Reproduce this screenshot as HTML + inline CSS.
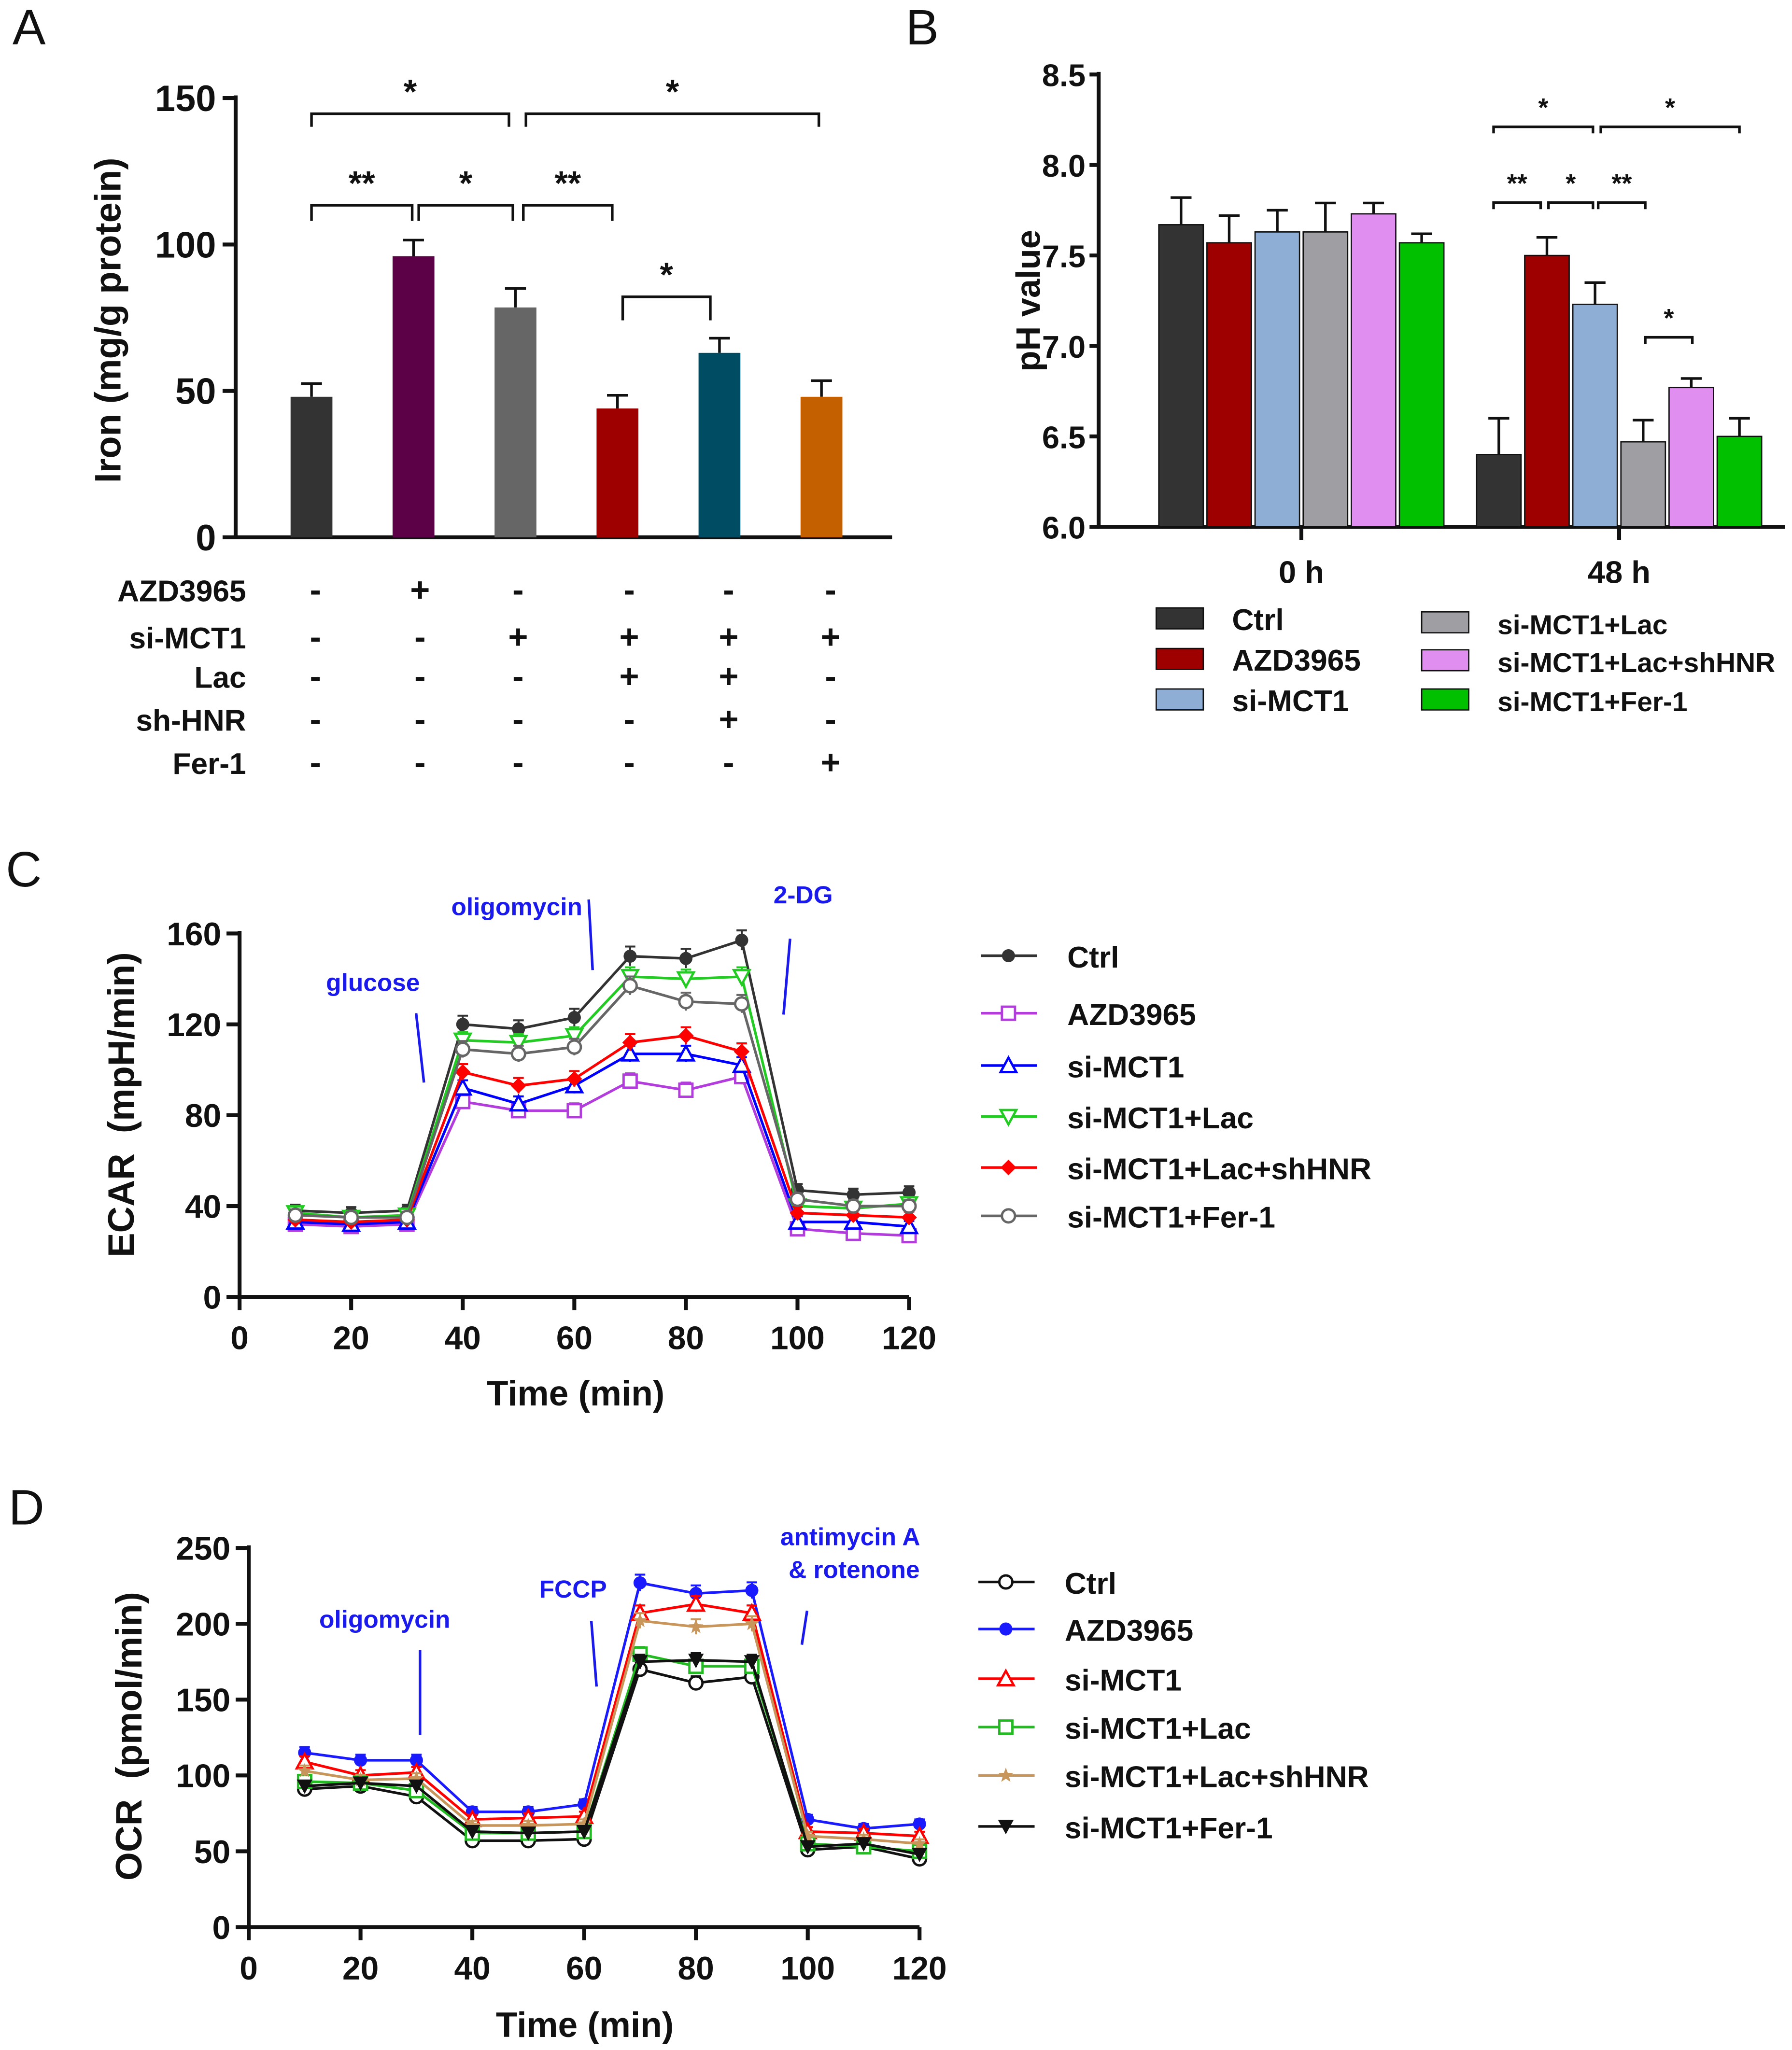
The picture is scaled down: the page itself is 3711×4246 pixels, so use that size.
<!DOCTYPE html>
<html><head><meta charset="utf-8"><style>
html,body{margin:0;padding:0;background:#fff}
svg{display:block}
text{font-family:"Liberation Sans",Arial,sans-serif;font-weight:bold;fill:#111}
</style></head><body>
<svg id="fig" width="3711" height="4246" viewBox="0 0 1370 1568" xmlns="http://www.w3.org/2000/svg">
<rect width="1370" height="1568" fill="#fff"/>
<g id="A"></g>
<g id="B"></g>
<g id="C"></g>
<g id="D"></g>
</svg>
<script>
// ---------- Panel A data ----------
const aGroups = ["g1","g2","g3","g4","g5","g6"];
const aValues = [48, 96, 78.5, 44, 63, 48];
const aErrors = [4.5, 5.5, 6.5, 4.5, 5, 5.5];
const aTicks = [0, 50, 100, 150];
const aColors = ["#333333","#5c0048","#666666","#9e0000","#004d63","#c46000"];
const aRowLabels = ["AZD3965","si-MCT1","Lac","sh-HNR","Fer-1"];
const aRowSigns = [["-","+","-","-","-","-"],["-","-","+","+","+","+"],["-","-","-","+","+","-"],["-","-","-","-","+","-"],["-","-","-","-","-","+"]];
// ---------- Panel B data ----------
const bCategories = ["0 h","48 h"];
const bSeries = ["Ctrl","AZD3965","si-MCT1","si-MCT1+Lac","si-MCT1+Lac+shHNR","si-MCT1+Fer-1"];
const b0h = [7.67, 7.57, 7.63, 7.63, 7.73, 7.57];
const b48h = [6.40, 7.50, 7.23, 6.47, 6.77, 6.50];
const b0hErr = [0.15, 0.15, 0.12, 0.16, 0.06, 0.05];
const b48hErr = [0.2, 0.1, 0.12, 0.12, 0.05, 0.1];
const bTicks = [6.0, 6.5, 7.0, 7.5, 8.0, 8.5];
const bColors = ["#333333","#9e0000","#8eaed6","#9e9ea3","#e08ff0","#00c000"];
// ---------- Panel C data ----------
const cTimes = [10,20,30,40,50,60,70,80,90,100,110,120];
const cCtrl = [38,37,38,120,118,123,150,149,157,47,45,46];
const cAZD = [32,31,32,86,82,82,95,91,97,30,28,27];
const cMCT1 = [33,32,33,92,85,93,107,107,102,33,33,31];
const cLac = [37,35,36,113,112,115,141,140,141,40,39,41];
const cHNR = [34,33,34,99,93,96,112,115,108,37,36,35];
const cFer = [36,35,35,109,107,110,137,130,129,43,40,40];
const cXTicks = [0,20,40,60,80,100,120];
const cYTicks = [0,40,80,120,160];
const cNames = ["Ctrl","AZD3965","si-MCT1","si-MCT1+Lac","si-MCT1+Lac+shHNR","si-MCT1+Fer-1"];
// ---------- Panel D data ----------
const dTimes = [10,20,30,40,50,60,70,80,90,100,110,120];
const dCtrl = [91,93,86,57,57,58,170,161,165,51,53,45];
const dAZD = [115,110,110,76,76,81,227,220,222,71,65,68];
const dMCT1 = [109,100,102,71,72,73,207,213,207,63,62,60];
const dLac = [96,95,90,62,62,63,180,172,172,55,53,50];
const dHNR = [103,97,98,67,67,68,202,198,200,60,58,55];
const dFer = [93,95,93,63,62,63,175,176,175,53,55,48];
const dXTicks = [0,20,40,60,80,100,120];
const dYTicks = [0,50,100,150,200,250];
const dNames = ["Ctrl","AZD3965","si-MCT1","si-MCT1+Lac","si-MCT1+Lac+shHNR","si-MCT1+Fer-1"];

const NS="http://www.w3.org/2000/svg";
function mk(parent,tag,attrs,txt){const e=document.createElementNS(NS,tag);for(const k in attrs)e.setAttribute(k,attrs[k]);if(txt!==undefined)e.textContent=txt;parent.appendChild(e);return e;}
function line(p,x1,y1,x2,y2,c,w,name){const e=mk(p,'line',{x1,y1,x2,y2,stroke:c||'#111','stroke-width':w||3});

return e;}
function txt(p,x,y,s,size,anchor,name,fill){const e=mk(p,'text',{x,y,'font-size':size,'text-anchor':anchor||'middle'},s);if(fill)e.style.fill=fill;

return e;}
const svg=document.getElementById('fig');
// panel letters
[["A",22,34],["B",705,34],["C",18,678],["D",20,1166]].forEach(l=>{const t=txt(svg,l[1],l[2],l[0],38,'middle','panel-letter');t.style.fontWeight='normal';});

// ===== Panel A =====
(function(){
const g=document.getElementById('A');
const y=v=>411-v*(336/150);
const xs=i=>238+i*78;
line(g,180,73,180,412,'#111',3,'y-axis');
line(g,179,411,682,411,'#111',3,'x-axis');
aTicks.forEach(t=>{line(g,170,y(t),180,y(t),'#111',3,'y-tick');txt(g,165,y(t)+10,String(t),28,'end','y-tick-label');});
const tt=txt(g,0,0,"Iron (mg/g protein)",28,'middle','y-axis-title');tt.setAttribute('transform','translate(92,245) rotate(-90)');
aValues.forEach((v,i)=>{
 const top=y(v+aErrors[i]);
 line(g,xs(i),y(v),xs(i),top,'#111',2,'error-bar');
 line(g,xs(i)-8,top,xs(i)+8,top,'#111',2,'error-cap');
 const r=mk(g,'rect',{x:xs(i)-16,y:y(v),width:32,height:411-y(v),fill:aColors[i]});
 
 
});
function br(x1,x2,yy,star,leg){const p=mk(g,'path',{d:`M${x1},${yy+leg} V${yy} H${x2} V${yy+leg}`,fill:'none',stroke:'#111','stroke-width':2});


txt(g,(x1+x2)/2,yy-8,star,26,'middle','significance-star');}
br(238,389,87,'*',10);br(402,626,87,'*',10);
br(238,315,157,'**',12);br(320,392,157,'*',12);br(400,468,157,'**',12);
br(476,543,227,'*',18);
const rowY=[460,496,526,559,592];
aRowLabels.forEach((l,r)=>{txt(g,188,rowY[r],l,23,'end','row-label-'+l.toLowerCase());
 const cx=[241,321,396,481,557,635];
 aRowSigns[r].forEach((s,i)=>txt(g,cx[i],rowY[r],s,26,'middle','treatment-sign'));});
})();

// ===== Panel B =====
(function(){
const g=document.getElementById('B');
const y=v=>403-(v-6)*(346/2.5);
line(g,840,55,840,404,'#111',3,'y-axis');
line(g,839,403,1365,403,'#111',3,'x-axis');
bTicks.forEach(t=>{line(g,833,y(t),840,y(t),'#111',3,'y-tick');txt(g,830,y(t)+9,t.toFixed(1),24,'end','y-tick-label');});
const tt=txt(g,0,0,"pH value",26,'middle','y-axis-title');tt.setAttribute('transform','translate(795,230) rotate(-90)');
const starts=[903,1146];
[b0h,b48h].forEach((vals,c)=>{
 const errs=c?b48hErr:b0hErr;
 vals.forEach((v,i)=>{const cx=starts[c]+i*36.8;const top=y(v+errs[i]);
  line(g,cx,y(v),cx,top,'#111',2,'error-bar');line(g,cx-8,top,cx+8,top,'#111',2,'error-cap');
  const r=mk(g,'rect',{x:cx-17,y:y(v),width:34,height:403-y(v),fill:bColors[i],stroke:'#111','stroke-width':1});
  
  });
 const mid=starts[c]+2.5*36.8;line(g,mid,403,mid,413,'#111',3,'x-tick');
 txt(g,mid,446,bCategories[c],24,'middle','x-tick-label');
});
function br(x1,x2,yy,star){const p=mk(g,'path',{d:`M${x1},${yy+5} V${yy} H${x2} V${yy+5}`,fill:'none',stroke:'#111','stroke-width':2});


txt(g,(x1+x2)/2,yy-8,star,20,'middle','significance-star');}
br(1142,1218,97,'*');br(1224,1330,97,'*');br(1142,1178,155,'**');br(1184,1218,155,'*');br(1222,1258,155,'**');br(1258,1294,258,'*');
const lx=[884,884,884,1087,1087,1087],ly=[473,504,535,476,505,535];
bSeries.forEach((s,i)=>{const r=mk(g,'rect',{x:lx[i],y:ly[i]-8,width:36,height:16,fill:bColors[i],stroke:'#111','stroke-width':1});
 
 
 txt(g,lx[i]+58,ly[i]+9,s,i<3?23:21,'start','legend-entry');});
})();

// ===== marker helper =====
function marker(g,type,x,y,c){let e;const s=5;
 if(type==='fc')e=mk(g,'circle',{cx:x,cy:y,r:s,fill:c});
 else if(type==='oc')e=mk(g,'circle',{cx:x,cy:y,r:s,fill:'#fff',stroke:c,'stroke-width':1.8});
 else if(type==='os')e=mk(g,'rect',{x:x-s,y:y-s,width:2*s,height:2*s,fill:'#fff',stroke:c,'stroke-width':1.8});
 else if(type==='ot')e=mk(g,'polygon',{points:`${x},${y-6} ${x-6},${y+5} ${x+6},${y+5}`,fill:'#fff',stroke:c,'stroke-width':1.8});
 else if(type==='od')e=mk(g,'polygon',{points:`${x},${y+6} ${x-6},${y-5} ${x+6},${y-5}`,fill:'#fff',stroke:c,'stroke-width':1.8});
 else if(type==='fd')e=mk(g,'polygon',{points:`${x},${y-6} ${x+6},${y} ${x},${y+6} ${x-6},${y}`,fill:c});
 else if(type==='fv')e=mk(g,'polygon',{points:`${x},${y+6} ${x-6},${y-5} ${x+6},${y-5}`,fill:c});
 else if(type==='st'){let p='';for(let k=0;k<10;k++){const r=k%2?2.5:6,a=-Math.PI/2+k*Math.PI/5;p+=`${x+r*Math.cos(a)},${y+r*Math.sin(a)} `;}e=mk(g,'polygon',{points:p,fill:c});}
 
 }

function lineChart(g,o){
 const X=v=>o.x0+v*(o.x1-o.x0)/120, Y=v=>o.y0-v*(o.y0-o.y1)/o.ymax;
 line(g,o.x0,o.y1-2,o.x0,o.y0+1,'#111',3,'y-axis');line(g,o.x0-1,o.y0,o.x1,o.y0,'#111',3,'x-axis');
 o.yt.forEach(t=>{line(g,o.x0-10,Y(t),o.x0,Y(t),'#111',3,'y-tick');txt(g,o.x0-14,Y(t)+9,String(t),25,'end','y-tick-label');});
 o.xt.forEach(t=>{line(g,X(t),o.y0,X(t),o.y0+10,'#111',3,'x-tick');txt(g,X(t),o.y0+40,String(t),25,'middle','x-tick-label');});
 o.series.forEach((d,si)=>{
  const pts=o.times.map((t,i)=>X(t)+','+Y(d[i])).join(' ');
  const pl=mk(g,'polyline',{points:pts,fill:'none',stroke:o.colors[si],'stroke-width':2});
  
  
  o.times.forEach((t,i)=>{const e=2+d[i]*0.015;line(g,X(t),Y(d[i]-e),X(t),Y(d[i]+e),o.colors[si],1.5,'error-bar');
   line(g,X(t)-4,Y(d[i]+e),X(t)+4,Y(d[i]+e),o.colors[si],1.5,'error-cap');marker(g,o.markers[si],X(t),Y(d[i]),o.colors[si]);});
  const ly=o.ly[si];line(g,o.lx,ly,o.lx+43,ly,o.colors[si],2,'legend-line');marker(g,o.markers[si],o.lx+21,ly,o.colors[si]);
  txt(g,o.lx+66,ly+9,o.names[si],23,'start','legend-entry');
 });
}
// ===== Panel C =====
(function(){
const g=document.getElementById('C');
lineChart(g,{x0:183,x1:695,y0:992,y1:714,ymax:160,times:cTimes,series:[cCtrl,cAZD,cMCT1,cLac,cHNR,cFer],
 colors:["#333333","#b23cdc","#0000ff","#22cc22","#ff0000","#666666"],markers:['fc','os','ot','od','fd','oc'],
 xt:cXTicks,yt:cYTicks,names:cNames,lx:750,ly:[731,775,815,854,893,930]});
const tt=txt(g,0,0,"ECAR  (mpH/min)",28,'middle','y-axis-title');tt.setAttribute('transform','translate(102,845) rotate(-90)');
tt.style.whiteSpace='pre';
txt(g,440,1075,"Time (min)",27,'middle','x-axis-title');
const bl="#1a1aee";
txt(g,285,758,"glucose",19,'middle','annotation-glucose',bl);line(g,318,775,324,828,bl,2,'annotation-line');
txt(g,395,700,"oligomycin",19,'middle','annotation-oligomycin',bl);line(g,450,688,453,742,bl,2,'annotation-line');
txt(g,614,691,"2-DG",19,'middle','annotation-2dg',bl);line(g,604,718,599,776,bl,2,'annotation-line');
})();
// ===== Panel D =====
(function(){
const g=document.getElementById('D');
lineChart(g,{x0:190,x1:703,y0:1474,y1:1184,ymax:250,times:dTimes,series:[dCtrl,dAZD,dMCT1,dLac,dHNR,dFer],
 colors:["#111111","#1a1aff","#ff0000","#22bb22","#c8965a","#111111"],markers:['oc','fc','ot','os','st','fv'],
 xt:dXTicks,yt:dYTicks,names:dNames,lx:748,ly:[1210,1246,1284,1321,1358,1397]});
const tt=txt(g,0,0,"OCR  (pmol/min)",28,'middle','y-axis-title');tt.setAttribute('transform','translate(108,1328) rotate(-90)');
tt.style.whiteSpace='pre';
txt(g,447,1558,"Time (min)",27,'middle','x-axis-title');
const bl="#1a1aee";
txt(g,294,1245,"oligomycin",19,'middle','annotation-oligomycin',bl);line(g,321,1262,321,1327,bl,2,'annotation-line');
txt(g,438,1222,"FCCP",19,'middle','annotation-fccp',bl);line(g,452,1240,456,1290,bl,2,'annotation-line');
txt(g,650,1182,"antimycin A",19,'middle','annotation-antimycin',bl);txt(g,653,1207,"& rotenone",19,'middle','annotation-rotenone',bl);
line(g,617,1232,613,1258,bl,2,'annotation-line');
})();
</script>
</body></html>
